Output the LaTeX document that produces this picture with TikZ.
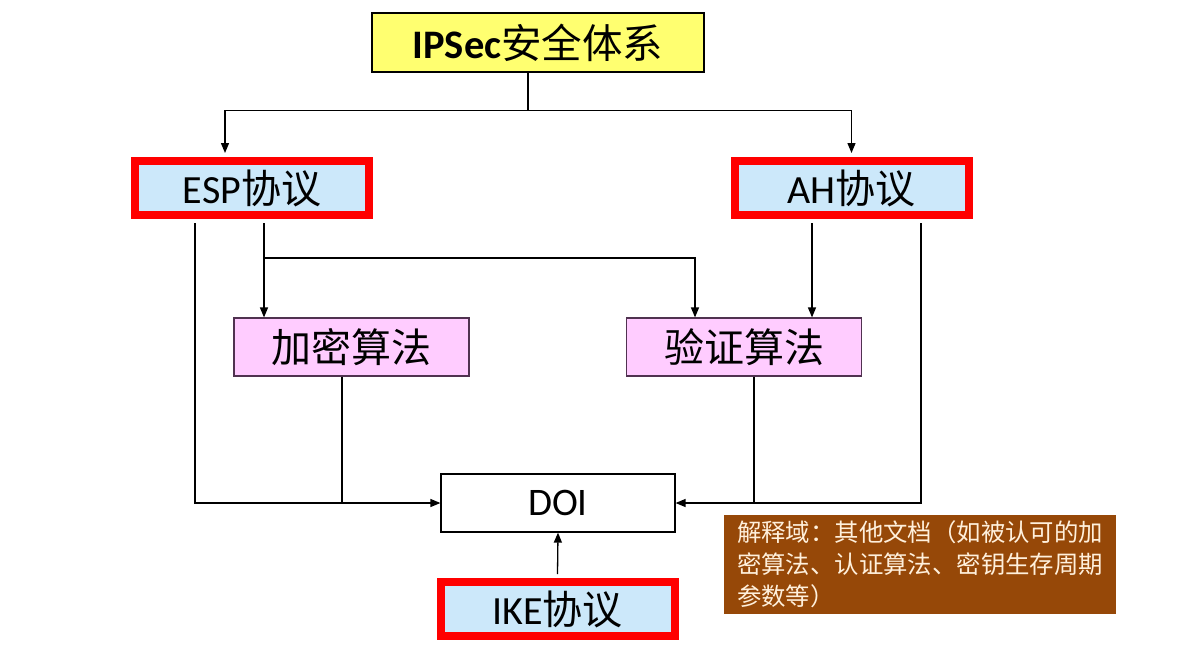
\documentclass[tikz,border=0pt]{standalone}
\usepackage{fontspec}
\setmainfont{Carlito}
\newfontfamily\cjk{Noto Sans CJK SC}
\usetikzlibrary{arrows.meta}
\definecolor{boxyellow}{RGB}{255,255,112}
\definecolor{boxblue}{RGB}{204,232,250}
\definecolor{boxpink}{RGB}{255,204,255}
\definecolor{pinkedge}{RGB}{80,50,80}
\definecolor{notebrown}{RGB}{150,72,8}
\definecolor{notetext}{RGB}{255,240,220}
\begin{document}
\begin{tikzpicture}[x=1pt,y=-1pt,
  conn/.style={line width=1.3pt, -{Triangle[length=10pt,width=8pt]}},
  plain/.style={line width=1.3pt},
  topbox/.style={draw=black, line width=1.2pt, fill=boxyellow, minimum width=332pt, minimum height=59pt, inner sep=0pt, font=\fontsize{40.5}{44}\selectfont},
  protobox/.style={draw=red, line width=8pt, fill=boxblue, minimum width=234pt, minimum height=54pt, inner sep=0pt, font=\fontsize{40}{44}\selectfont},
  algbox/.style={draw=pinkedge, line width=1.2pt, fill=boxpink, minimum width=235pt, minimum height=58pt, inner sep=0pt, font=\cjk\fontsize{40}{44}\selectfont},
  doibox/.style={draw=black, line width=1.2pt, fill=white, minimum width=234pt, minimum height=58pt, inner sep=0pt, font=\fontsize{39}{42}\selectfont},
  notebox/.style={fill=notebrown, text=notetext, minimum width=392pt, minimum height=99pt, inner sep=0pt, align=left, font=\cjk\fontsize{24.4}{32}\selectfont}
]
\useasboundingbox (0,0) rectangle (1190,657);
\fill[white] (0,0) rectangle (1190,657);

\node[topbox] (top) at (538,42.5) {\textbf{IPSec}{\cjk 安全体系}};
\node[protobox] (esp) at (252,188) {ESP{\cjk 协议}};
\node[protobox] (ah) at (851.5,188) {AH{\cjk 协议}};
\node[algbox] (enc) at (351.5,347) {加密算法};
\node[algbox] (ver) at (744,347) {验证算法};
\node[doibox] (doi) at (558,503) {DOI};
\node[protobox] (ike) at (557.5,609) {IKE{\cjk 协议}};
\node[notebox] (note) at (920,564.5) {解释域：其他文档（如被认可的加\\密算法、认证算法、密钥生存周期\\参数等）};

% top distribution
\draw[plain] ([xshift=-10pt]top.south) -- ++(0,38) coordinate (tj);
\draw[conn] (tj) -| ([xshift=-27pt,yshift=4pt]esp.north);
\draw[conn] (tj) -| ([yshift=4pt]ah.north);

% ESP outputs
\draw[conn] ([xshift=-57pt,yshift=-4pt]esp.south) |- (doi.west);
\draw[conn] ([xshift=12pt,yshift=-4pt]esp.south) coordinate (e2) -- (e2 |- enc.north);
\coordinate (hb) at (0,258);
\draw[conn] (e2 |- hb) -| ([xshift=-49pt]ver.north);

% AH outputs
\draw[conn] ([xshift=-39.5pt,yshift=-4pt]ah.south) coordinate (a1) -- (a1 |- ver.north);
\draw[conn] ([xshift=69.5pt,yshift=-4pt]ah.south) |- (doi.east);

% algorithm boxes to DOI line
\draw[plain] ([xshift=-9.5pt]enc.south) coordinate (b1) -- (b1 |- doi.west);
\draw[plain] ([xshift=10pt]ver.south) coordinate (b2) -- (b2 |- doi.east);

% IKE to DOI
\draw[conn] ([yshift=4pt]ike.north) -- (doi.south);
\end{tikzpicture}
\end{document}
